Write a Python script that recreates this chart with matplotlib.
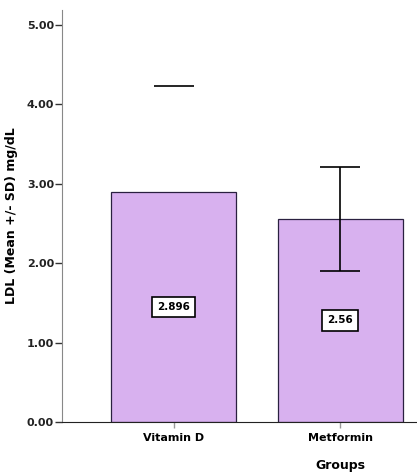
import numpy as np
import matplotlib
matplotlib.use('Agg')
from matplotlib import pyplot as plt

# 그룹별 LDL 평균 / 표준편차
groups = ['Vitamin D', 'Metformin']
means = [2.896, 2.56]
sds = [1.334, 0.655]
labels = ['2.896', '2.56']
yticks = [0.0, 1.0, 2.0, 3.0, 4.0, 5.0]

plt.rcParams['font.family'] = ['DejaVu Sans']
plt.rcParams['font.weight'] = 'bold'

fig = plt.figure(figsize=(4.17, 4.74), dpi=100)
ax = fig.add_axes([62/417, 1-422/474, 355/417, 412/474])

x = np.arange(len(groups))
ax.bar(x, means, width=0.75, color='#d8b1ef', edgecolor='#2a2040', linewidth=0.9, zorder=2)

# Vitamin D : 위쪽 캡만 보임, Metformin : 전체 오차막대
ax.hlines(means[0] + sds[0], x[0] - 0.12, x[0] + 0.12, color='black', lw=1.2, zorder=3)
ax.errorbar(x[1], means[1], yerr=sds[1], fmt='none', ecolor='black',
            elinewidth=1.2, capsize=14.5, capthick=1.2, zorder=3)

# 막대 중간에 값 표시
for xi, m, lab in zip(x, means, labels):
    ax.text(xi, m / 2, lab, ha='center', va='center', fontsize=7.5, fontweight='bold',
            bbox=dict(boxstyle='square,pad=0.5', fc='white', ec='black', lw=1.2), zorder=4)

ax.set_xlim(-0.67, 1.46)
ax.set_ylim(0, 5.19)
ax.set_xticks(x)
ax.set_xticklabels(groups, fontsize=8, fontweight='bold')
ax.set_yticks(yticks)
ax.set_yticklabels(['%.2f' % v for v in yticks], fontsize=8, fontweight='bold', color='#222222')

ax.spines['top'].set_visible(False)
ax.spines['right'].set_visible(False)
ax.spines['left'].set_color('#888888')
ax.spines['bottom'].set_color('#222222')
ax.tick_params(axis='y', length=5, width=1, color='#333333', pad=0.8)
ax.tick_params(axis='x', length=4, width=1, color='#999999', pad=4)

ax.set_ylabel('LDL (Mean +/- SD) mg/dL', fontsize=9, fontweight='bold')
ax.yaxis.set_label_coords(-(62 - 18) / 355, 0.5)
ax.set_xlabel('Groups', fontsize=9, fontweight='bold')
ax.xaxis.set_label_coords((340 - 62) / 355, -0.09)

fig.savefig('out.png', dpi=100)
